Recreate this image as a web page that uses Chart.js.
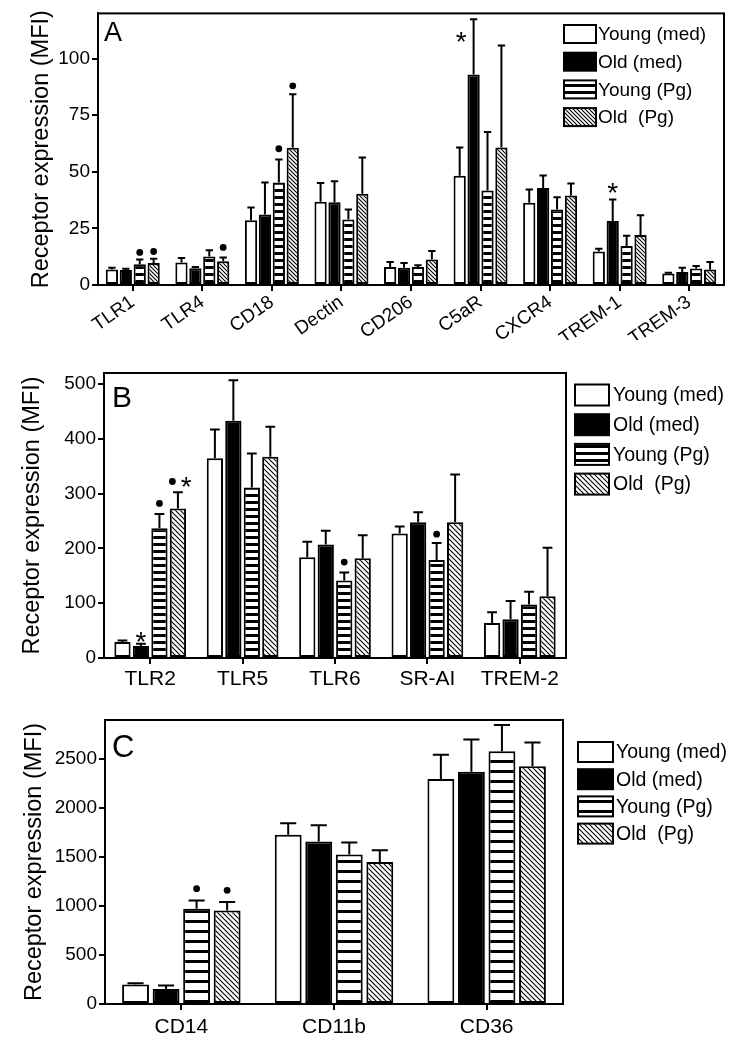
<!DOCTYPE html>
<html><head><meta charset="utf-8">
<script src="https://cdn.jsdelivr.net/npm/chart.js@4.4.0/dist/chart.umd.min.js"></script>
<style>
html,body{margin:0;padding:0;background:#fff;}
body{width:745px;height:1050px;position:relative;overflow:hidden;}
canvas{position:absolute;left:0;}
</style></head><body>
<canvas id="cA" width="745" height="340" style="top:0px"></canvas>
<canvas id="cB" width="745" height="360" style="top:340px"></canvas>
<canvas id="cC" width="745" height="350" style="top:700px"></canvas>
<script>
// ---------- DATA ----------
const seriesNames = ['Young (med)', 'Old (med)', 'Young (Pg)', 'Old  (Pg)'];
const yTitle = 'Receptor expression (MFI)';

// Panel A
const catsA = ['TLR1','TLR4','CD18','Dectin','CD206','C5aR','CXCR4','TREM-1','TREM-3'];
const youngMedA = [6.8, 9.9, 28.6, 36.8, 8.0, 48.3, 36.3, 14.8, 5.1];
const oldMedA   = [6.6, 7.4, 31.1, 36.6, 7.6, 93.0, 42.9, 28.3, 5.7];
const youngPgA  = [9.2, 12.6, 45.3, 28.9, 8.0, 41.7, 33.4, 17.2, 7.3];
const oldPgA    = [9.7, 10.5, 60.6, 40.3, 11.3, 60.8, 39.5, 22.1, 6.8];
const youngMedErrA = [0.8, 2.0, 5.6, 8.3, 2.2, 12.5, 5.9, 1.2, 0.3];
const oldMedErrA   = [0.6, 0.5, 14.2, 9.2, 2.1, 24.4, 5.5, 9.5, 1.9];
const youngPgErrA  = [2.1, 2.7, 10.2, 4.5, 0.7, 25.9, 5.4, 4.6, 1.1];
const oldPgErrA    = [1.9, 1.7, 23.7, 16.0, 3.7, 45.0, 5.3, 8.7, 3.4];
const ticksA = [0, 25, 50, 75, 100];
// markers: [category, series, value, symbol]
const marksA = [[0,2,14.4,'dot'],[0,3,14.8,'dot'],[1,3,16.6,'dot'],[2,2,60.2,'dot'],[2,3,88,'dot'],
                [5,0.1,110.4,'star'],[7,1,43.6,'star']];

// Panel B
const catsB = ['TLR2','TLR5','TLR6','SR-AI','TREM-2'];
const youngMedB = [29, 364.6, 184, 227, 64];
const oldMedB   = [22, 433, 207, 247.6, 70.7];
const youngPgB  = [236.6, 311, 141.5, 179, 97.6];
const oldPgB    = [273, 367, 182, 247.6, 112.8];
const youngMedErrB = [3, 52.4, 28, 13, 19.5];
const oldMedErrB   = [4, 74, 25, 18.4, 33.3];
const youngPgErrB  = [26.2, 62, 14.5, 31, 23.1];
const oldPgErrB    = [29.4, 55, 42, 87.2, 88.2];
const ticksB = [0, 100, 200, 300, 400, 500];
const marksB = [[0,1,42,'star'],[0,2,282,'dot'],[0,2.7,322,'dot'],[0,3.45,325,'star'],[2,2,175,'dot'],[3,2,226,'dot']];

// Panel C
const catsC = ['CD14','CD11b','CD36'];
const youngMedC = [198, 1727, 2297];
const oldMedC   = [154, 1659, 2372];
const youngPgC  = [973, 1526, 2580];
const oldPgC    = [956, 1451, 2427];
const youngMedErrC = [13, 119, 249];
const oldMedErrC   = [34, 167, 328];
const youngPgErrC  = [85, 122, 270];
const oldPgErrC    = [85, 119, 242];
const ticksC = [0, 500, 1000, 1500, 2000, 2500];
const marksC = [[0,2,1178,'dot'],[0,3,1161,'dot']];

// ---------- STYLE HELPERS ----------
const FONT = '"Liberation Sans", Arial, Helvetica, sans-serif';
Chart.defaults.font.family = FONT;
Chart.defaults.color = '#000';

function stripes(period, thick){
  const c=document.createElement('canvas'); c.width=4; c.height=period;
  const g=c.getContext('2d'); g.fillStyle='#fff'; g.fillRect(0,0,4,period);
  g.fillStyle='#000'; g.fillRect(0,0,4,thick);
  return g.createPattern(c,'repeat');
}
function hatch(s, lw){
  const c=document.createElement('canvas'); c.width=s; c.height=s;
  const g=c.getContext('2d'); g.fillStyle='#fff'; g.fillRect(0,0,s,s);
  g.strokeStyle='#000'; g.lineWidth=lw; g.beginPath();
  g.moveTo(-1,-1); g.lineTo(s+1,s+1);
  g.moveTo(-1,s-1); g.lineTo(1,s+1);
  g.moveTo(s-1,-1); g.lineTo(s+1,1);
  g.stroke();
  return g.createPattern(c,'repeat');
}

const panelPlugin = {
  id:'panel',
  afterDatasetsDraw(chart, args, o){
    const ctx=chart.ctx, ya=chart.scales.y, a=chart.chartArea;
    ctx.save();
    ctx.strokeStyle='#000'; ctx.fillStyle='#000';
    // error bars
    chart.data.datasets.forEach((ds,di)=>{
      const meta=chart.getDatasetMeta(di);
      meta.data.forEach((bar,i)=>{
        const v=ds.data[i], e=ds.sem[i];
        const x=bar.x, y0=ya.getPixelForValue(v), y1=ya.getPixelForValue(v+e);
        const cw=bar.width*0.6;
        ctx.lineWidth=2;
        ctx.beginPath(); ctx.moveTo(x,y0); ctx.lineTo(x,y1);
        ctx.moveTo(x-cw/2,y1); ctx.lineTo(x+cw/2,y1); ctx.stroke();
      });
    });
    // box
    ctx.lineWidth=2; ctx.strokeRect(a.left,a.top,a.right-a.left,a.bottom-a.top);
    // significance markers
    o.marks.forEach(m=>{
      const [ci, s, v, sym] = m;
      const base = Math.floor(s), frac = s-base;
      const m0 = chart.getDatasetMeta(0).data[ci], m1 = chart.getDatasetMeta(1).data[ci];
      const step = m1.x - m0.x;
      const x = chart.getDatasetMeta(base).data[ci].x + frac*step;
      const y = ya.getPixelForValue(v);
      if (sym==='dot'){
        ctx.beginPath(); ctx.arc(x,y,3.4,0,Math.PI*2); ctx.fill();
      } else {
        const fs=28;
        ctx.font = fs+'px '+FONT; ctx.textAlign='center'; ctx.textBaseline='alphabetic';
        ctx.fillText('*', x, y + 0.575*fs);
      }
    });
    // panel letter
    ctx.font = o.letterSize+'px '+FONT; ctx.textAlign='left'; ctx.textBaseline='alphabetic';
    ctx.fillText(o.letter, o.letterX, o.letterY);
    // legend
    const L=o.legend;
    chart.data.datasets.forEach((ds,di)=>{
      const cy = L.y + di*L.dy;
      ctx.fillStyle = ds.backgroundColor;
      ctx.fillRect(L.x, cy-L.h/2, L.w, L.h);
      ctx.lineWidth=2; ctx.strokeStyle='#000';
      ctx.strokeRect(L.x, cy-L.h/2, L.w, L.h);
      ctx.fillStyle='#000';
      ctx.font = L.size+'px '+FONT; ctx.textAlign='left'; ctx.textBaseline='middle';
      ctx.fillText(ds.label, L.tx, cy+1);
    });
    ctx.restore();
  }
};

function makeChart(id, cfg){
  const fills = ['#ffffff', '#000000', stripes(cfg.stripeP, cfg.stripeT), hatch(cfg.hatchS, 1.1)];
  const datasets = cfg.series.map((d,i)=>({
    label: seriesNames[i], data: d, sem: cfg.errs[i],
    backgroundColor: fills[i], borderColor:'#000', borderWidth: 2, borderSkipped:false,
    categoryPercentage: 0.8, barPercentage: 0.88
  }));
  return new Chart(document.getElementById(id), {
    type:'bar',
    data:{labels: cfg.cats, datasets},
    options:{
      responsive:false, animation:false, devicePixelRatio:1,
      layout:{padding:{top:cfg.top, right:cfg.right, left:0, bottom:0}},
      plugins:{legend:{display:false}, tooltip:{enabled:false},
        panel:{marks:cfg.marks, letter:cfg.letter, letterSize:cfg.letterSize, letterX:cfg.letterX, letterY:cfg.letterY, legend:cfg.legend}},
      scales:{
        x:{
          afterFit(s){ s.height = cfg.xH; },
          grid:{offset:false, drawOnChartArea:false, drawTicks:true, tickLength:6, color:'#000', lineWidth:2},
          border:{display:true, color:'#000', width:2},
          ticks:{font:{size:cfg.xFont}, color:'#000', autoSkip:false, minRotation:cfg.rot, maxRotation:cfg.rot, padding:cfg.xPad}
        },
        y:{
          min:0, max:cfg.ymax,
          afterBuildTicks(s){ s.ticks = cfg.ticks.map(v=>({value:v})); },
          afterFit(s){ s.width = cfg.yW; },
          grid:{drawOnChartArea:false, drawTicks:true, tickLength:6, color:'#000', lineWidth:2},
          border:{display:true, color:'#000', width:2},
          ticks:{font:{size:19}, color:'#000', padding:2, callback:(v)=>String(v)},
          title:{display:true, text:yTitle, font:{size:23.5}, color:'#000', padding:{top:cfg.titlePad, bottom:0}}
        }
      }
    },
    plugins:[panelPlugin]
  });
}

makeChart('cA', {
  cats: catsA, series:[youngMedA, oldMedA, youngPgA, oldPgA],
  errs:[youngMedErrA, oldMedErrA, youngPgErrA, oldPgErrA],
  ticks: ticksA, ymax:120, marks: marksA,
  top:10, right:21, yW:98, xH:55, xFont:19, rot:35, xPad:0, titlePad:27,
  stripeP:7, stripeT:3, hatchS:4,
  letter:'A', letterSize:27, letterX:104, letterY:41,
  legend:{x:564, w:32, h:18, y:34, dy:27.7, tx:598, size:19}
});
makeChart('cB', {
  cats: catsB, series:[youngMedB, oldMedB, youngPgB, oldPgB],
  errs:[youngMedErrB, oldMedErrB, youngPgErrB, oldPgErrB],
  ticks: ticksB, ymax:520, marks: marksB,
  top:33, right:179, yW:104, xH:42, xFont:21, rot:0, xPad:3, titlePad:18,
  stripeP:7, stripeT:3, hatchS:5,
  letter:'B', letterSize:30, letterX:112, letterY:67,
  legend:{x:575, w:34, h:21, y:55, dy:29.7, tx:613, size:19.5}
});
makeChart('cC', {
  cats: catsC, series:[youngMedC, oldMedC, youngPgC, oldPgC],
  errs:[youngMedErrC, oldMedErrC, youngPgErrC, oldPgErrC],
  ticks: ticksC, ymax:2900, marks: marksC,
  top:20, right:182, yW:105, xH:46, xFont:21, rot:0, xPad:5, titlePad:20,
  stripeP:10, stripeT:3, hatchS:5,
  letter:'C', letterSize:31, letterX:112, letterY:57,
  legend:{x:578, w:35, h:20, y:52, dy:27.2, tx:616, size:19.5}
});
</script>
</body></html>
